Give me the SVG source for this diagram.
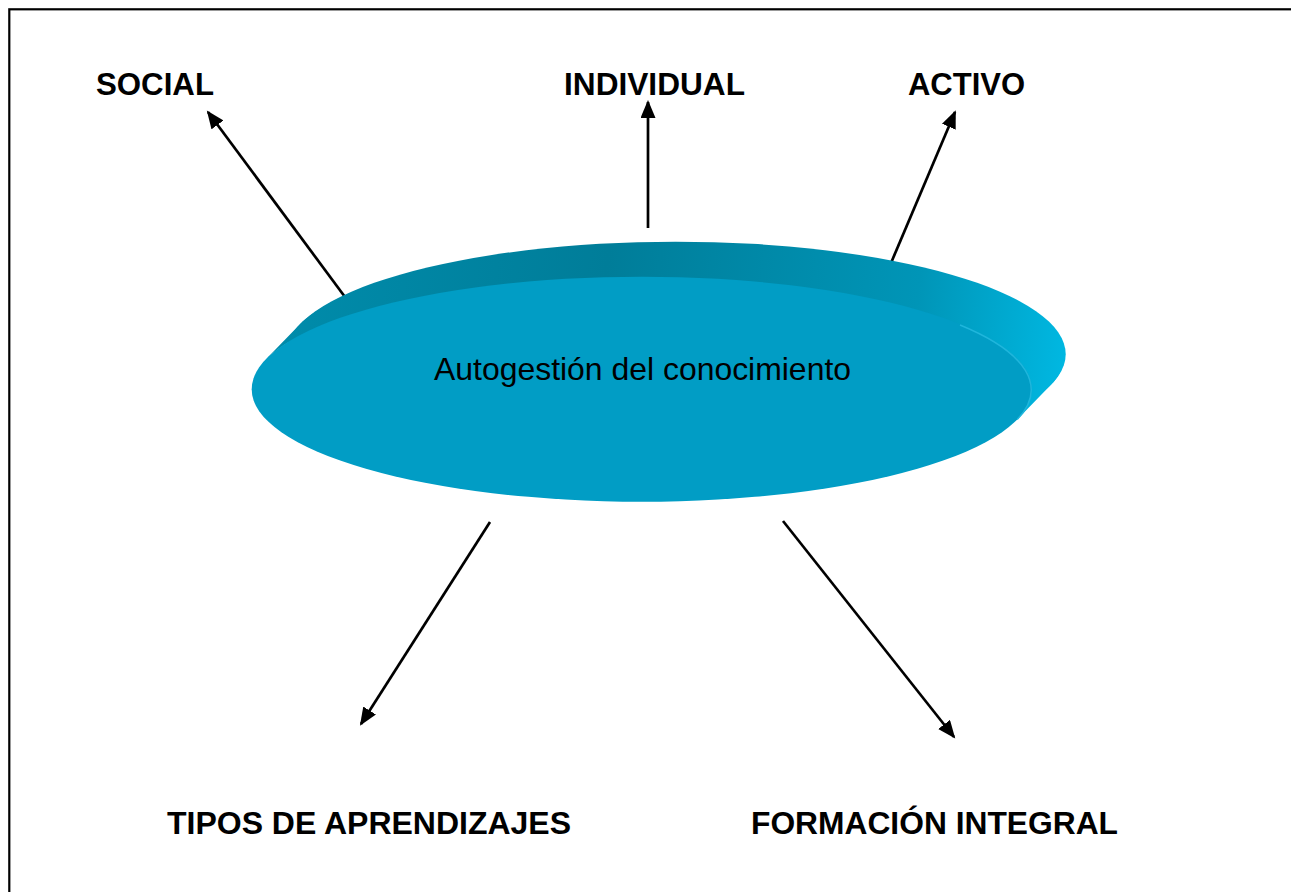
<svg xmlns="http://www.w3.org/2000/svg" width="1291" height="892" viewBox="0 0 1291 892">
  <style>
    .lbl { font-family: "Liberation Sans", Arial, sans-serif; font-weight: bold; font-size: 31.5px; fill: #000; }
    .center { font-family: "Liberation Sans", Arial, sans-serif; font-size: 32px; fill: #000; }
    .conn { stroke: #000; stroke-width: 2.7; fill: none; marker-end: url(#arrow); }
  </style>
  <defs>
    <marker id="arrow" markerUnits="userSpaceOnUse" markerWidth="20" markerHeight="16" refX="16" refY="7.5" orient="auto">
      <path d="M0,0 L18,7.5 L0,15 Z" fill="#000"/>
    </marker>
    <linearGradient id="side" gradientUnits="userSpaceOnUse" x1="290" y1="300" x2="1066" y2="380">
      <stop offset="0" stop-color="#008BAA"/>
      <stop offset="0.4" stop-color="#007D99"/>
      <stop offset="0.8" stop-color="#0095B7"/>
      <stop offset="1" stop-color="#00B8E2"/>
    </linearGradient>
  </defs>
  <rect x="9.3" y="9.3" width="1295" height="895" fill="#fff" stroke="#000" stroke-width="2.2"/>

  <g id="connectors">
    <line class="conn" x1="345" y1="297" x2="208" y2="112"/>
    <line class="conn" x1="648" y1="228" x2="648" y2="102"/>
    <line class="conn" x1="891" y1="263" x2="955" y2="112"/>
    <line class="conn" x1="490" y1="522" x2="361" y2="724"/>
    <line class="conn" x1="783" y1="521" x2="954" y2="737"/>
  </g>

  <g id="center-node">
    <path d="M266.2,358.9 L300.2,323.9 A390,112.5 0 0 1 1051.2,384.6 L1017.2,419.6 A390,112.5 0 0 0 266.2,358.9 Z" fill="url(#side)"/>
    <ellipse cx="675.7" cy="354.2" rx="390" ry="112.5" fill="url(#side)"/>
    <ellipse cx="641.7" cy="389.2" rx="390" ry="112.5" fill="#019DC5"/>
    <path d="M960,325 A390,112.5 0 0 1 1017.2,419.6" fill="none" stroke="#1FB6DC" stroke-width="1.5"/>
    <text class="center" x="434" y="380" textLength="417" lengthAdjust="spacingAndGlyphs">Autogestión del conocimiento</text>
  </g>

  <g id="social"><text class="lbl" x="96" y="95" textLength="118" lengthAdjust="spacingAndGlyphs">SOCIAL</text></g>
  <g id="individual"><text class="lbl" x="564" y="95" textLength="181" lengthAdjust="spacingAndGlyphs">INDIVIDUAL</text></g>
  <g id="activo"><text class="lbl" x="908" y="95" textLength="117" lengthAdjust="spacingAndGlyphs">ACTIVO</text></g>
  <g id="tipos"><text class="lbl" x="167" y="834" textLength="404" lengthAdjust="spacingAndGlyphs">TIPOS DE APRENDIZAJES</text></g>
  <g id="formacion"><text class="lbl" x="751" y="834" textLength="367" lengthAdjust="spacingAndGlyphs">FORMACIÓN INTEGRAL</text></g>
</svg>
